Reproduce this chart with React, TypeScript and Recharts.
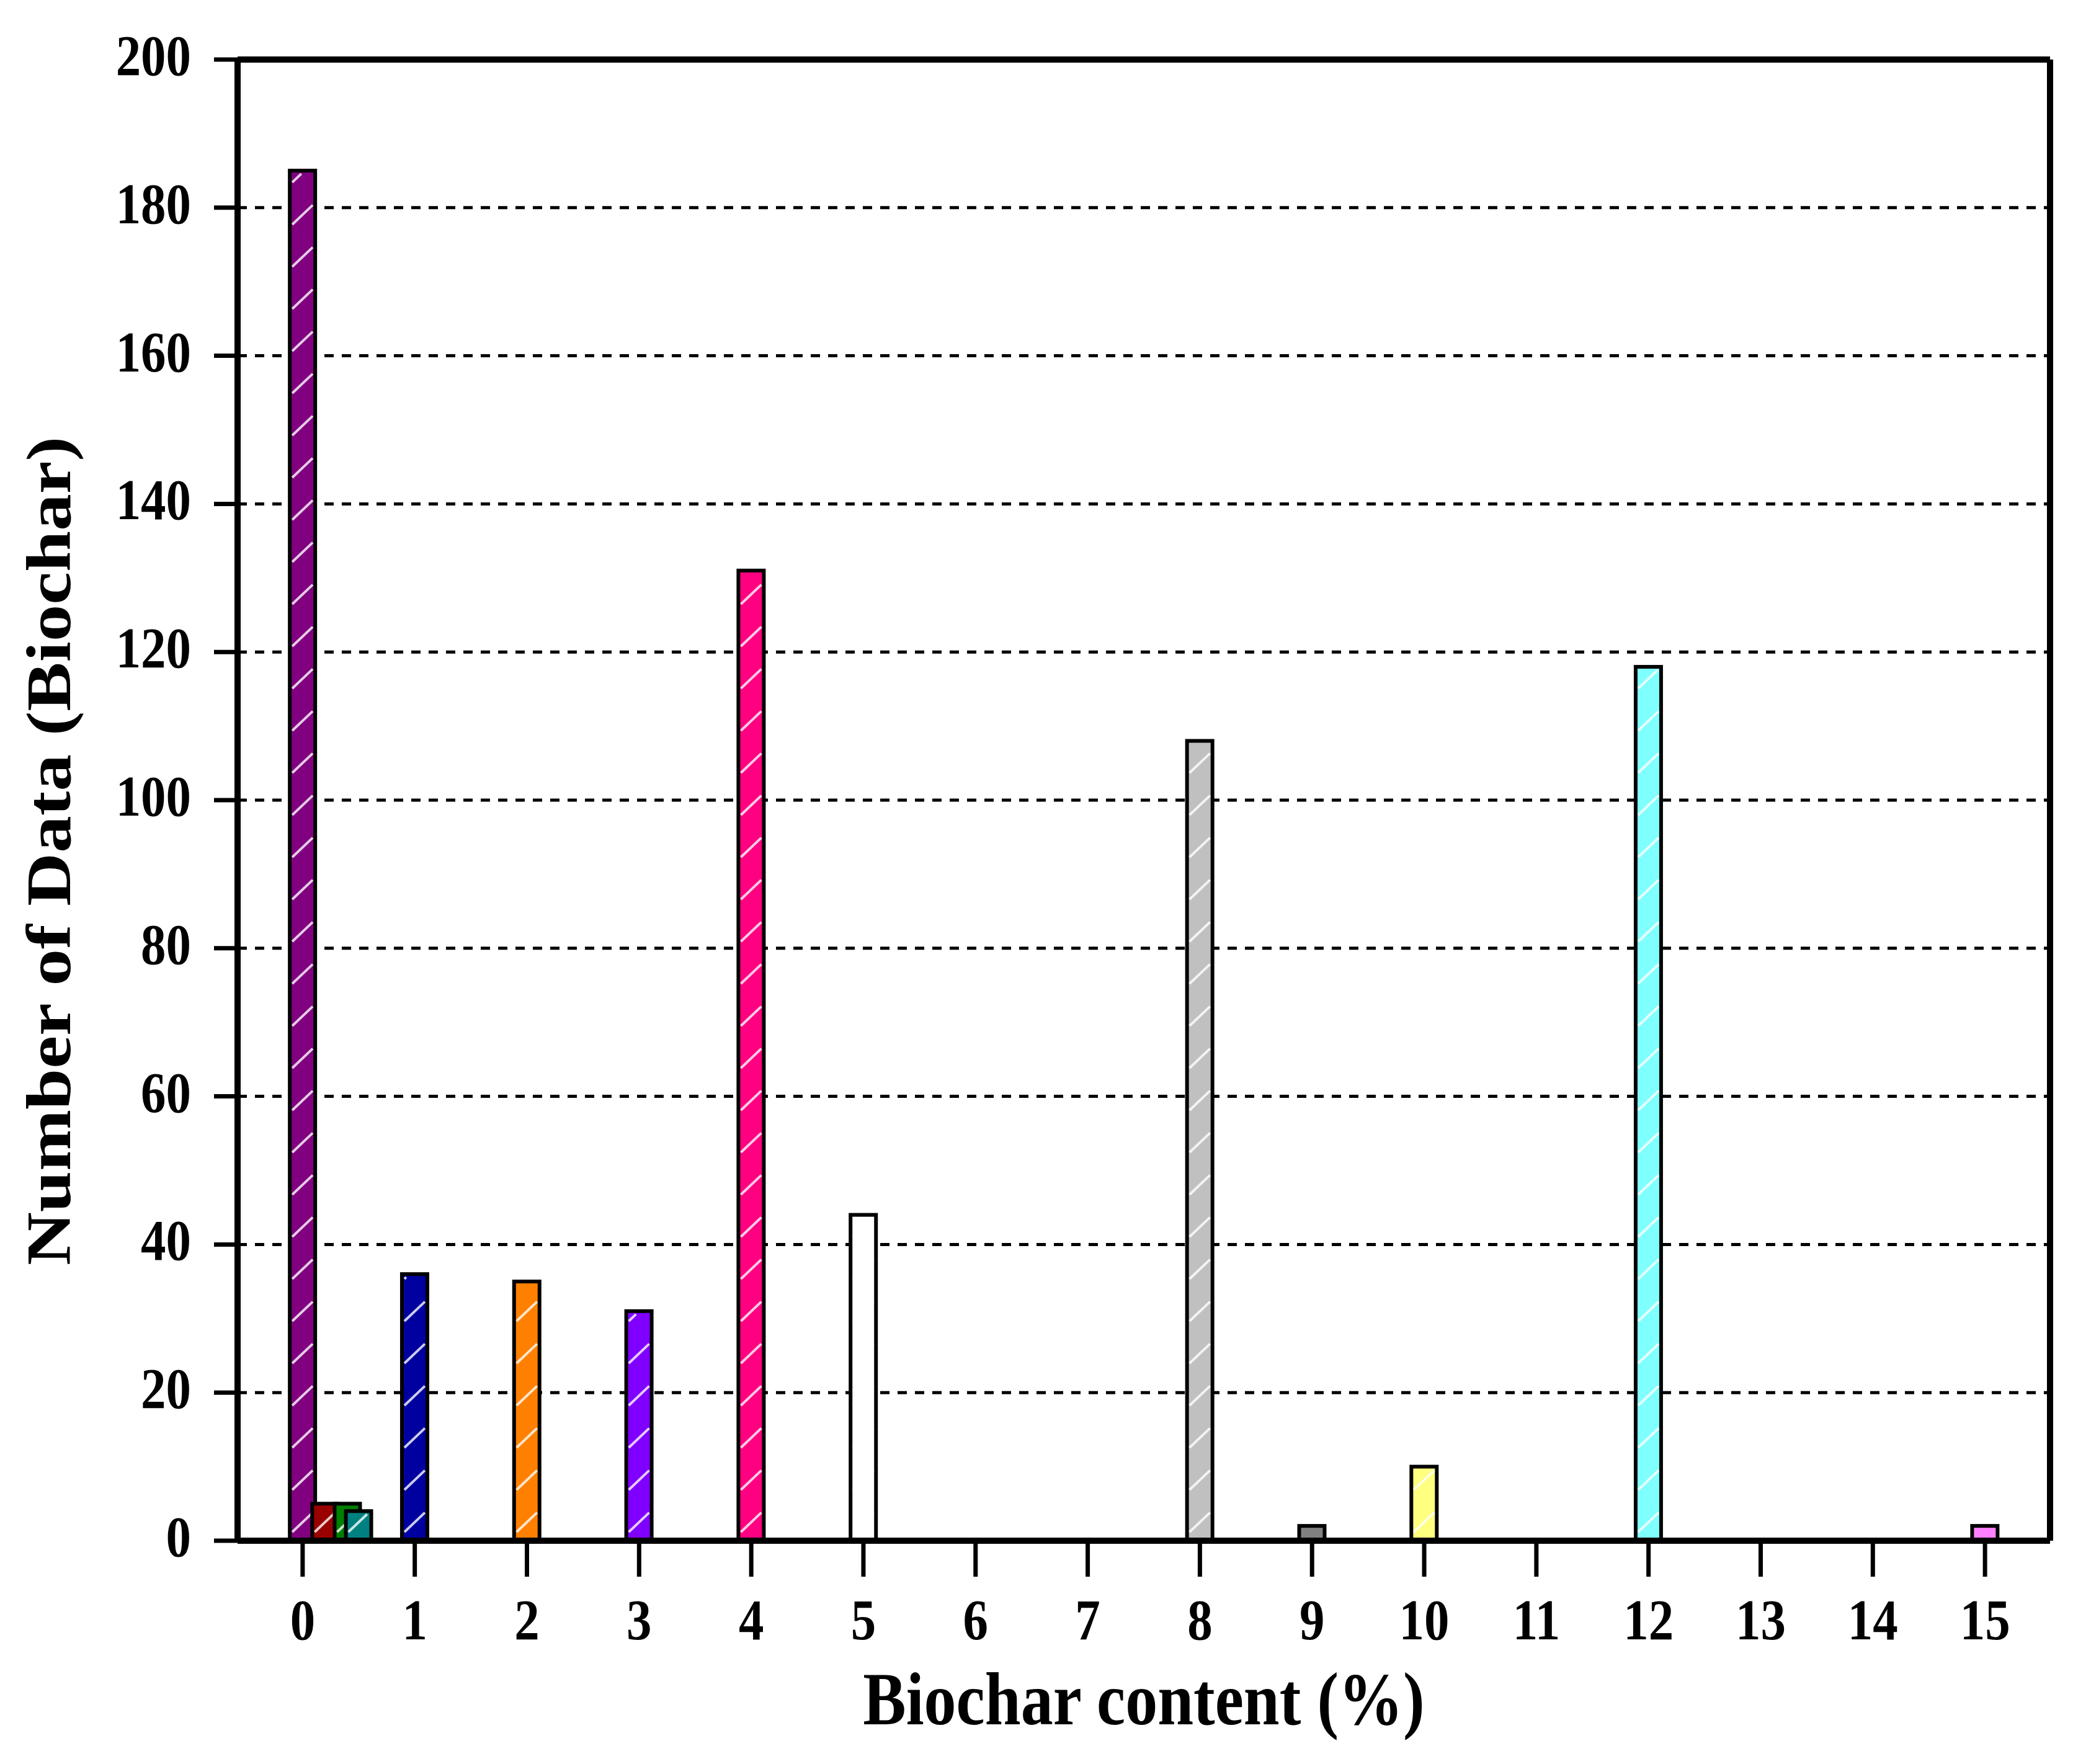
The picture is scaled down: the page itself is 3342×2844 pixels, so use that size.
import React from 'react';
import { BarChart, Bar, Cell, XAxis, YAxis, CartesianGrid, ReferenceLine } from 'recharts';

// biochar content (%) and number of data points at each level
const contents = [0, 0.2, 0.4, 0.5, 1, 2, 3, 4, 5, 8, 9, 10, 12, 15];
const counts = [185, 5, 5, 4, 36, 35, 31, 131, 44, 108, 2, 10, 118, 2];
const barColors = [
  '#800080',
  '#990000',
  '#008000',
  '#008080',
  '#0000A0',
  '#FF8000',
  '#8000FF',
  '#FF0080',
  '#FFFFFF',
  '#C0C0C0',
  '#808080',
  '#FFFF80',
  '#80FFFF',
  '#FF80FF',
];
const xTicks = [0, 1, 2, 3, 4, 5, 6, 7, 8, 9, 10, 11, 12, 13, 14, 15];
const yTicks = [0, 20, 40, 60, 80, 100, 120, 140, 160, 180, 200];
const xDomain = [-0.58, 15.58];
const yDomain = [0, 200];

const data = contents.map((content, i) => ({ content, count: counts[i] }));

const FONT = '"Liberation Serif", "Times New Roman", serif';
const BAR_W = 41;

// bar with white diagonal hatch, drawn wider than the band recharts gives it
const HatchBar = (props: any) => {
  const { x, y, width, height, fill } = props;
  if (!height || height <= 0) return null;
  const cx = x + width / 2;
  const left = cx - BAR_W / 2;
  const bottom = y + height;
  const x0 = left + 4;
  const x1 = left + BAR_W - 4;
  const rise = (x1 - x0) * 0.95;
  const lines = [];
  if (height > 30) {
    for (let k = 0; ; k++) {
      const y0 = bottom - 14 - k * 68;
      if (y0 <= y + 5) break;
      const t = Math.min(1, (y0 - (y + 5)) / rise);
      lines.push(
        <line
          key={k}
          x1={x0}
          y1={y0}
          x2={x0 + t * (x1 - x0)}
          y2={y0 - t * rise}
          stroke="#fff"
          strokeOpacity={0.8}
          strokeWidth={4}
        />
      );
    }
  }
  return (
    <g>
      <rect x={left} y={y} width={BAR_W} height={height} fill={fill} stroke="#000" strokeWidth={6} />
      {lines}
    </g>
  );
};

const YTick = ({ x, y, payload }: any) => (
  <text
    transform={`translate(${x},${y + 25}) scale(0.87,1)`}
    textAnchor="end"
    fontFamily={FONT}
    fontWeight="bold"
    fontSize={93}
    fill="#000"
  >
    {payload.value}
  </text>
);

const XTick = ({ x, y, payload }: any) => (
  <text
    transform={`translate(${x},${y + 99}) scale(0.87,1)`}
    textAnchor="middle"
    fontFamily={FONT}
    fontWeight="bold"
    fontSize={93}
    fill="#000"
  >
    {payload.value}
  </text>
);

const XTitle = ({ viewBox }: any) => (
  <text
    transform={`translate(${viewBox.x + viewBox.width / 2},${viewBox.y + 296}) scale(0.86,1)`}
    textAnchor="middle"
    fontFamily={FONT}
    fontWeight="bold"
    fontSize={121}
    fill="#000"
  >
    Biochar content (%)
  </text>
);

const YTitle = ({ viewBox }: any) => (
  <text
    transform={`translate(${viewBox.x + 113},${viewBox.y + viewBox.height / 2 + 82}) rotate(-90) scale(1,0.86)`}
    textAnchor="middle"
    fontFamily={FONT}
    fontWeight="bold"
    fontSize={119}
    fill="#000"
  >
    Number of Data (Biochar)
  </text>
);

const axisStroke = { stroke: '#000', strokeWidth: 10 };
const tickStroke = { stroke: '#000', strokeWidth: 7 };

const App = () => {
  return (
    <div style={{ position: 'absolute', left: 0, top: 0, background: '#fff' }}>
      <BarChart
        width={3342}
        height={2844}
        data={data}
        margin={{ top: 96, right: 37, left: 0, bottom: 0 }}
      >
        <CartesianGrid
          vertical={false}
          stroke="#000"
          strokeWidth={5}
          strokeDasharray="15 13"
        />
        <XAxis
          dataKey="content"
          type="number"
          domain={xDomain}
          allowDataOverflow
          ticks={xTicks}
          interval={0}
          height={360}
          tickSize={58}
          tickMargin={2}
          stroke="#000"
          strokeWidth={10}
          axisLine={axisStroke}
          tickLine={tickStroke}
          tick={<XTick />}
          label={<XTitle />}
        />
        <YAxis
          domain={yDomain}
          ticks={yTicks}
          interval={0}
          width={383}
          tickSize={38}
          tickMargin={37}
          stroke="#000"
          strokeWidth={10}
          axisLine={axisStroke}
          tickLine={tickStroke}
          tick={<YTick />}
          label={<YTitle />}
        />
        {/* top and right sides of the frame */}
        <ReferenceLine y={yDomain[1]} stroke="#000" strokeWidth={10} ifOverflow="visible" />
        <ReferenceLine x={xDomain[1]} stroke="#000" strokeWidth={10} ifOverflow="visible" />
        <Bar dataKey="count" isAnimationActive={false} shape={(p: any) => <HatchBar {...p} />}>
          {data.map((entry, index) => (
            <Cell key={`cell-${index}`} fill={barColors[index]} />
          ))}
        </Bar>
      </BarChart>
    </div>
  );
};

export default App;
